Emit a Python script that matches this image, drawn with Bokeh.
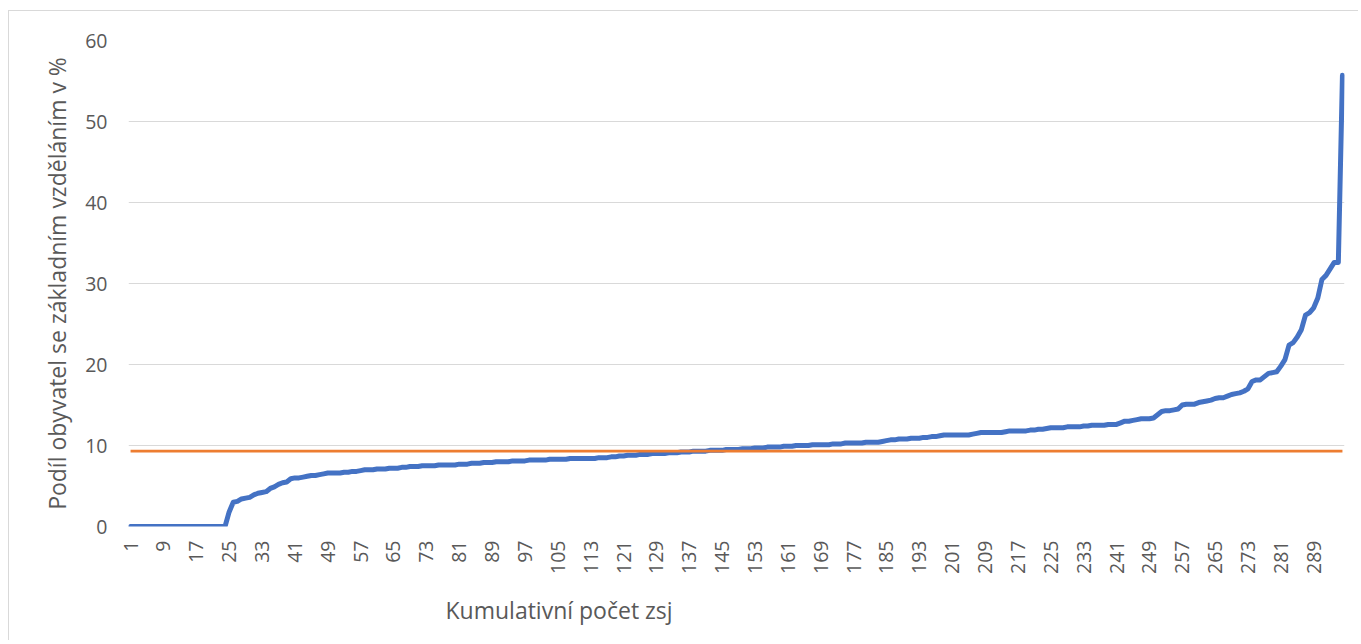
import math
from bokeh.plotting import figure
from bokeh.models import FixedTicker, Range1d, Title
from bokeh.embed import file_html
from bokeh.resources import INLINE

# ---- data ----
categories = list(range(1, 297))
podil = [
    0, 0, 0, 0, 0, 0, 0, 0, 0, 0, 0, 0, 0, 0, 0, 0, 0, 0, 0, 0, 0, 0, 0, 0,
    1.8, 3.0, 3.1, 3.4, 3.5, 3.6, 3.9, 4.1, 4.2, 4.3, 4.7, 4.9, 5.2, 5.4, 5.5, 5.9,
    6.0, 6.0, 6.1, 6.2, 6.3, 6.3, 6.4, 6.5, 6.6, 6.6, 6.6, 6.6, 6.7, 6.7, 6.8, 6.8,
    6.9, 7.0, 7.0, 7.0, 7.1, 7.1, 7.1, 7.2, 7.2, 7.2, 7.3, 7.3, 7.4, 7.4, 7.4, 7.5,
    7.5, 7.5, 7.5, 7.6, 7.6, 7.6, 7.6, 7.6, 7.7, 7.7, 7.7, 7.8, 7.8, 7.8, 7.9, 7.9,
    7.9, 8.0, 8.0, 8.0, 8.0, 8.1, 8.1, 8.1, 8.1, 8.2, 8.2, 8.2, 8.2, 8.2, 8.3, 8.3,
    8.3, 8.3, 8.3, 8.4, 8.4, 8.4, 8.4, 8.4, 8.4, 8.4, 8.5, 8.5, 8.5, 8.6, 8.6, 8.7,
    8.7, 8.8, 8.8, 8.8, 8.9, 8.9, 8.9, 9.0, 9.0, 9.0, 9.0, 9.1, 9.1, 9.1, 9.2, 9.2,
    9.2, 9.3, 9.3, 9.3, 9.3, 9.4, 9.4, 9.4, 9.4, 9.5, 9.5, 9.5, 9.5, 9.6, 9.6, 9.6,
    9.7, 9.7, 9.7, 9.8, 9.8, 9.8, 9.8, 9.9, 9.9, 9.9, 10.0, 10.0, 10.0, 10.0, 10.1, 10.1,
    10.1, 10.1, 10.1, 10.2, 10.2, 10.2, 10.3, 10.3, 10.3, 10.3, 10.3, 10.4, 10.4, 10.4, 10.4, 10.5,
    10.6, 10.7, 10.7, 10.8, 10.8, 10.8, 10.9, 10.9, 10.9, 11.0, 11.0, 11.1, 11.1, 11.2, 11.3, 11.3,
    11.3, 11.3, 11.3, 11.3, 11.3, 11.4, 11.5, 11.6, 11.6, 11.6, 11.6, 11.6, 11.6, 11.7, 11.8, 11.8,
    11.8, 11.8, 11.8, 11.9, 11.9, 12.0, 12.0, 12.1, 12.2, 12.2, 12.2, 12.2, 12.3, 12.3, 12.3, 12.3,
    12.4, 12.4, 12.5, 12.5, 12.5, 12.5, 12.6, 12.6, 12.6, 12.8, 13.0, 13.0, 13.1, 13.2, 13.3, 13.3,
    13.3, 13.4, 13.8, 14.2, 14.3, 14.3, 14.4, 14.5, 15.0, 15.1, 15.1, 15.1, 15.3, 15.4, 15.5, 15.6,
    15.8, 15.9, 15.9, 16.1, 16.3, 16.4, 16.5, 16.7, 17.0, 17.9, 18.1, 18.1, 18.5, 18.9, 19.0, 19.1,
    19.8, 20.6, 22.4, 22.7, 23.4, 24.3, 26.1, 26.4, 27.0, 28.2, 30.5, 31.0, 31.8, 32.6, 32.6, 55.7,
]
prumer = 9.3
x_ticks = list(range(1, 297, 8))
y_ticks = [0, 10, 20, 30, 40, 50, 60]
x_title = "Kumulativní počet zsj"
y_title = "Podíl obyvatel se základním vzděláním v %"

FONT = "Open Sans"
TXT = "#595959"

p = figure(width=1350, height=630, output_backend="svg", toolbar_location=None,
           x_range=Range1d(0.5, len(categories) + 0.5), y_range=Range1d(0, 60),
           min_border_left=119, min_border_right=15, min_border_top=29, min_border_bottom=115)
p.styles = {"border-top": "1px solid #D9D9D9", "border-left": "1px solid #D9D9D9",
            "margin-left": "8px", "margin-top": "10px"}
p.outline_line_color = None
p.background_fill_color = "white"
p.border_fill_color = "white"

p.line(categories, podil, line_color="#4472C4", line_width=5, line_join="round", line_cap="round")
p.line(categories, [prumer] * len(categories), line_color="#ED7D31", line_width=2.75)

p.xgrid.grid_line_color = None
p.ygrid.grid_line_color = "#D9D9D9"
p.ygrid.grid_line_width = 1

p.xaxis.ticker = FixedTicker(ticks=x_ticks)
p.yaxis.ticker = FixedTicker(ticks=y_ticks)
for ax in (p.xaxis[0], p.yaxis[0]):
    ax.axis_line_color = None
    ax.major_tick_line_color = None
    ax.minor_tick_line_color = None
    ax.major_label_text_font = FONT
    ax.major_label_text_font_size = "19.5px"
    ax.major_label_text_color = TXT
    ax.axis_label_text_font = FONT
    ax.axis_label_text_color = TXT
    ax.axis_label_text_font_style = "normal"

p.xaxis.major_label_orientation = math.pi / 2
p.xaxis.major_label_standoff = 8
p.yaxis.major_label_standoff = 15
p.yaxis.axis_label = y_title
p.yaxis.axis_label_text_font_size = "23px"
p.yaxis.axis_label_standoff = 9

p.add_layout(Title(text=x_title, align="left", offset=317, standoff=30,
                   text_font=FONT, text_font_size="23px", text_color=TXT,
                   text_font_style="normal"), "below")

open("out.html", "w").write(file_html(p, INLINE))
